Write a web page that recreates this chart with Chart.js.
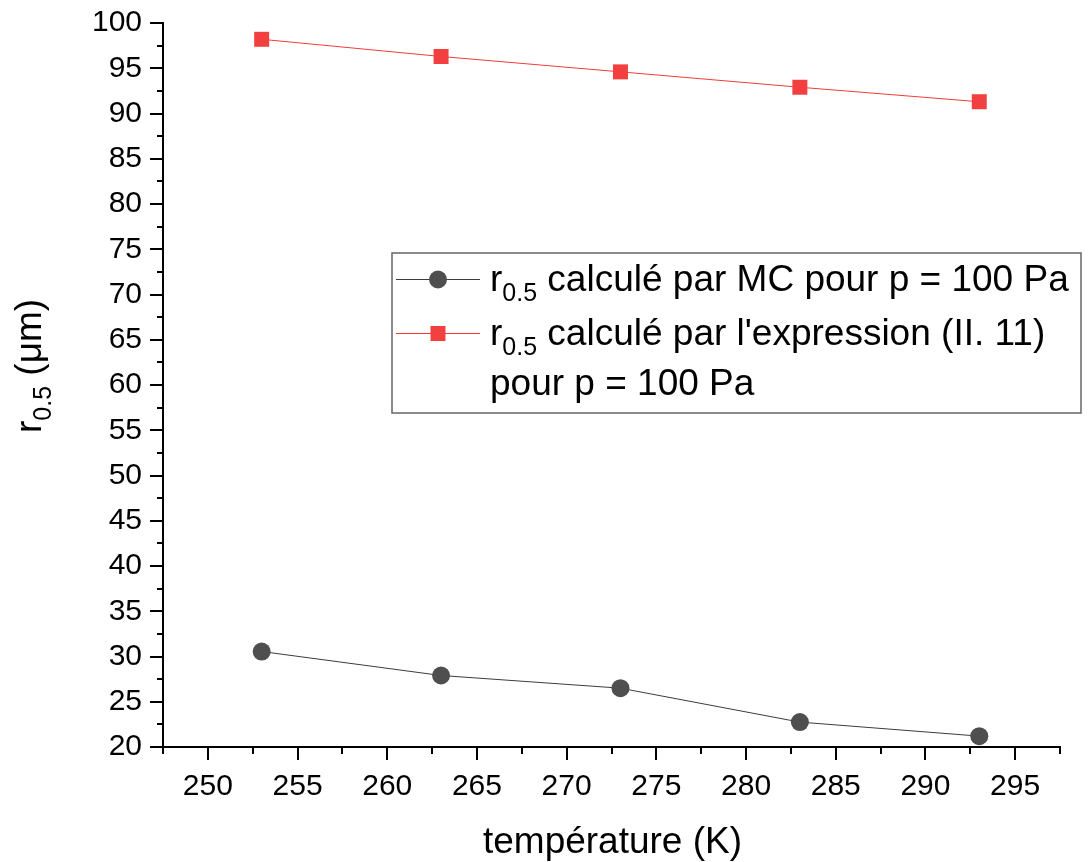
<!DOCTYPE html>
<html>
<head>
<meta charset="utf-8">
<script src="https://cdn.jsdelivr.net/npm/chart.js@4.4.1/dist/chart.umd.min.js"></script>
<style>
  html, body { margin: 0; padding: 0; background: #fff; }
  #wrap { width: 1088px; height: 862px; }
</style>
</head>
<body>
<div id="wrap"><canvas id="chart" width="1088" height="862"></canvas></div>
<script>
// temperature (K)
var temperatures = [253, 263, 273, 283, 293];
// r0.5 (µm) calculé par MC, p = 100 Pa
var rMC = [30.55, 27.9, 26.5, 22.75, 21.2];
// r0.5 (µm) calculé par l'expression (II. 11), p = 100 Pa
var rExpr = [98.2, 96.3, 94.6, 92.9, 91.3];

var xTickLabels = [250, 255, 260, 265, 270, 275, 280, 285, 290, 295];
var yTickLabels = [20, 25, 30, 35, 40, 45, 50, 55, 60, 65, 70, 75, 80, 85, 90, 95, 100];

var FONT = "'Liberation Sans', Arial, sans-serif";

function toPoints(xs, ys) {
  var out = [];
  for (var i = 0; i < xs.length; i++) out.push({ x: xs[i], y: ys[i] });
  return out;
}

// text with a "0.5" subscript, parts = [{t:'r'}, {t:'0.5', sub:true}, ...]
function drawRich(ctx, x, y, parts, size) {
  var cx = x;
  parts.forEach(function (p) {
    var s = p.sub ? Math.round(size * 0.68) : size;
    ctx.font = s + 'px ' + FONT;
    ctx.fillText(p.t, cx, p.sub ? y + size * 0.28 : y);
    cx += ctx.measureText(p.t).width;
  });
}

// major / minor tick marks, every 2.5 units
var tickMarks = {
  id: 'tickMarks',
  afterDraw: function (chart) {
    var ctx = chart.ctx;
    var xs = chart.scales.x, ys = chart.scales.y;
    var area = chart.chartArea;
    ctx.save();
    ctx.strokeStyle = '#000';
    ctx.lineWidth = 2;
    ctx.beginPath();
    for (var v = xs.min; v <= xs.max + 0.01; v += 2.5) {
      var px = Math.round(xs.getPixelForValue(v));
      var len = (v % 5 === 0) ? 13 : 7;
      ctx.moveTo(px, area.bottom);
      ctx.lineTo(px, area.bottom + len);
    }
    for (var w = ys.min; w <= ys.max + 0.01; w += 2.5) {
      var py = Math.round(ys.getPixelForValue(w));
      var len2 = (w % 5 === 0) ? 13 : 6;
      ctx.moveTo(area.left, py);
      ctx.lineTo(area.left - len2, py);
    }
    ctx.stroke();
    ctx.restore();
  }
};

// axis titles and the boxed legend
var titlesAndLegend = {
  id: 'titlesAndLegend',
  afterDraw: function (chart) {
    var ctx = chart.ctx;
    var area = chart.chartArea;
    ctx.save();
    ctx.fillStyle = '#000';
    ctx.textBaseline = 'alphabetic';
    ctx.textAlign = 'left';

    // x title
    ctx.font = '37px ' + FONT;
    var xt = 'température (K)';
    var xw = ctx.measureText(xt).width;
    ctx.fillText(xt, (area.left + area.right) / 2 - xw / 2 + 1, 853);

    // y title, rotated
    ctx.save();
    ctx.translate(41, 433);
    ctx.rotate(-Math.PI / 2);
    drawRich(ctx, 0, 0, [{ t: 'r' }, { t: '0.5', sub: true }, { t: ' (\u03bcm)' }], 37);
    ctx.restore();

    // legend box
    var bx = 392, by = 253, bw = 689, bh = 160;
    ctx.strokeStyle = '#666';
    ctx.lineWidth = 1.5;
    ctx.strokeRect(bx, by, bw, bh);

    var rows = [
      { ds: 0, y: 279, parts: [{ t: 'r' }, { t: '0.5', sub: true }, { t: ' calculé par MC pour p = 100 Pa' }] },
      { ds: 1, y: 333, parts: [{ t: 'r' }, { t: '0.5', sub: true }, { t: " calculé par l'expression (II. 11)" }] },
      { ds: -1, y: 383, parts: [{ t: 'pour p = 100 Pa' }] }
    ];
    rows.forEach(function (r) {
      if (r.ds >= 0) {
        var d = chart.data.datasets[r.ds];
        ctx.strokeStyle = d.borderColor;
        ctx.lineWidth = 1;
        ctx.beginPath();
        ctx.moveTo(396, r.y + 0.5);
        ctx.lineTo(480, r.y + 0.5);
        ctx.stroke();
        ctx.fillStyle = d.pointBackgroundColor;
        ctx.strokeStyle = d.pointBorderColor;
        Chart.helpers.drawPoint(ctx, {
          pointStyle: d.pointStyle, radius: d.pointRadius, borderWidth: 0, rotation: 0
        }, 438, r.y + 0.5);
      }
      ctx.fillStyle = '#000';
      drawRich(ctx, 490, r.y + 12, r.parts, 37);
    });
    ctx.restore();
  }
};

new Chart(document.getElementById('chart'), {
  type: 'line',
  data: {
    datasets: [
      {
        label: 'r0.5 calculé par MC pour p = 100 Pa',
        data: toPoints(temperatures, rMC),
        borderColor: '#3c3c3c',
        borderWidth: 1,
        pointStyle: 'circle',
        pointRadius: 9,
        pointBackgroundColor: '#4f4f4f',
        pointBorderColor: '#4f4f4f',
        pointBorderWidth: 0
      },
      {
        label: "r0.5 calculé par l'expression (II. 11) pour p = 100 Pa",
        data: toPoints(temperatures, rExpr),
        borderColor: '#f03c3c',
        borderWidth: 1,
        pointStyle: 'rect',
        pointRadius: 10.6,
        pointBackgroundColor: '#f24040',
        pointBorderColor: '#f24040',
        pointBorderWidth: 0
      }
    ]
  },
  options: {
    responsive: false,
    animation: false,
    clip: false,
    layout: { padding: { top: 23, right: 28, left: 0, bottom: 0 } },
    plugins: { legend: { display: false }, tooltip: { enabled: false } },
    scales: {
      x: {
        type: 'linear',
        min: 247.5,
        max: 297.5,
        afterBuildTicks: function (scale) {
          scale.ticks = xTickLabels.map(function (v) { return { value: v }; });
        },
        afterFit: function (scale) {
          scale.height = 115;
          scale.paddingLeft = 0;
          scale.paddingRight = 0;
        },
        grid: { display: false },
        border: { display: true, color: '#000', width: 2 },
        ticks: {
          autoSkip: false, maxRotation: 0, padding: 14, color: '#000',
          font: { family: FONT, size: 30 }
        }
      },
      y: {
        type: 'linear',
        min: 20,
        max: 100,
        afterBuildTicks: function (scale) {
          scale.ticks = yTickLabels.map(function (v) { return { value: v }; });
        },
        afterFit: function (scale) {
          scale.width = 163;
          scale.paddingTop = 0;
          scale.paddingBottom = 0;
        },
        grid: { display: false },
        border: { display: true, color: '#000', width: 2 },
        ticks: {
          autoSkip: false, padding: 13, color: '#000',
          font: { family: FONT, size: 30 }
        }
      }
    }
  },
  plugins: [tickMarks, titlesAndLegend]
});
</script>
</body>
</html>
